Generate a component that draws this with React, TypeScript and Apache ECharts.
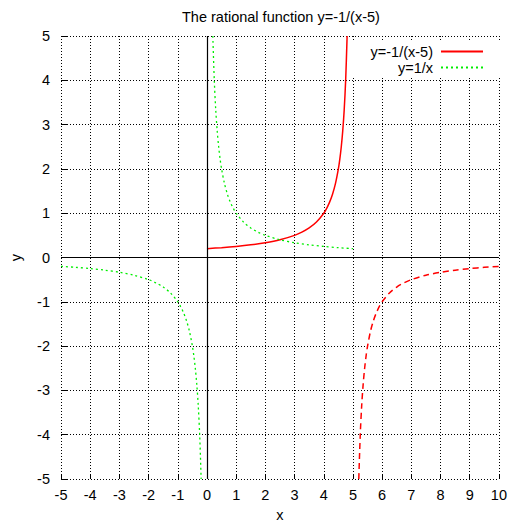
import React, { useEffect, useRef } from "react";
import * as echarts from "echarts";

const titleText = "The rational function y=-1/(x-5)";
const redName = "y=-1/(x-5)";
const greenName = "y=1/x";

// y=-1/(x-5), branch left of the asymptote (solid)
const redUpperX = [0, 0.5, 1, 1.5, 2, 2.5, 3, 3.25, 3.5, 3.75, 4, 4.1, 4.2, 4.3, 4.4, 4.5, 4.55, 4.6, 4.65, 4.7, 4.75, 4.8];
const redUpperY = [0.2, 0.2222, 0.25, 0.2857, 0.3333, 0.4, 0.5, 0.5714, 0.6667, 0.8, 1, 1.1111, 1.25, 1.4286, 1.6667, 2, 2.2222, 2.5, 2.8571, 3.3333, 4, 5];
// y=-1/(x-5), branch right of the asymptote (dashed)
const redLowerX = [5.2, 5.25, 5.3, 5.35, 5.4, 5.45, 5.5, 5.6, 5.7, 5.8, 5.9, 6, 6.25, 6.5, 6.75, 7, 7.5, 8, 8.5, 9, 9.5, 10];
const redLowerY = [-5, -4, -3.3333, -2.8571, -2.5, -2.2222, -2, -1.6667, -1.4286, -1.25, -1.1111, -1, -0.8, -0.6667, -0.5714, -0.5, -0.4, -0.3333, -0.2857, -0.25, -0.2222, -0.2];
// y=1/x, positive branch
const greenUpperX = [0.2, 0.25, 0.3, 0.35, 0.4, 0.45, 0.5, 0.6, 0.7, 0.8, 0.9, 1, 1.25, 1.5, 1.75, 2, 2.5, 3, 3.5, 4, 4.5, 5];
const greenUpperY = [5, 4, 3.3333, 2.8571, 2.5, 2.2222, 2, 1.6667, 1.4286, 1.25, 1.1111, 1, 0.8, 0.6667, 0.5714, 0.5, 0.4, 0.3333, 0.2857, 0.25, 0.2222, 0.2];
// y=1/x, negative branch
const greenLowerX = [-5, -4.5, -4, -3.5, -3, -2.5, -2, -1.75, -1.5, -1.25, -1, -0.9, -0.8, -0.7, -0.6, -0.5, -0.45, -0.4, -0.35, -0.3, -0.25, -0.2];
const greenLowerY = [-0.2, -0.2222, -0.25, -0.2857, -0.3333, -0.4, -0.5, -0.5714, -0.6667, -0.8, -1, -1.1111, -1.25, -1.4286, -1.6667, -2, -2.2222, -2.5, -2.8571, -3.3333, -4, -5];

const xMin = -5, xMax = 10, yMin = -5, yMax = 5;

const zip = (xs: number[], ys: number[]) => xs.map((x, i) => [x, ys[i]]);

const FONT = "Liberation Sans, Arial, Helvetica, sans-serif";
const FS = 14.5;

export default function App() {
  const ref = useRef<HTMLDivElement>(null);
  useEffect(() => {
    if (!ref.current) return;
    const chart = echarts.init(ref.current, undefined, { renderer: "svg" });
    const red = "#ff0000";
    const green = "#00ee00";
    chart.setOption({
      animation: false,
      backgroundColor: "#ffffff",
      textStyle: { fontFamily: FONT },
      title: {
        text: titleText,
        left: 177,
        top: 4,
        textStyle: { fontFamily: FONT, fontSize: FS, fontWeight: "normal", color: "#000" },
      },
      legend: {
        data: [redName, greenName],
        orient: "vertical",
        right: 5,
        top: 42,
        align: "right",
        itemWidth: 42,
        itemHeight: 10,
        itemGap: 1,
        padding: [2, 21, 2, 30],
        backgroundColor: "#ffffff",
        z: 1,
        itemStyle: { color: "rgba(0,0,0,0)", borderWidth: 0, opacity: 0 },
        textStyle: { fontFamily: FONT, fontSize: FS, color: "#000", padding: [0, 3, 0, 0] },
      },
      grid: { left: 59, right: 7, top: 36, bottom: 46, containLabel: false },
      xAxis: {
        type: "value",
        min: xMin,
        max: xMax,
        interval: 1,
        name: "x",
        nameLocation: "middle",
        nameGap: 28,
        nameTextStyle: { fontFamily: FONT, fontSize: FS, color: "#000" },
        axisLine: { show: false, onZero: false },
        axisTick: { show: true, inside: true, length: 5, lineStyle: { color: "#000" } },
        axisLabel: { fontFamily: FONT, fontSize: FS, color: "#000", margin: 8 },
        splitLine: { show: true, lineStyle: { color: "#000", type: [1, 2], width: 1 } },
      },
      yAxis: {
        type: "value",
        min: yMin,
        max: yMax,
        interval: 1,
        name: "y",
        nameLocation: "middle",
        nameGap: 38,
        nameTextStyle: { fontFamily: FONT, fontSize: FS, color: "#000" },
        axisLine: { show: false, onZero: false },
        axisTick: { show: true, inside: true, length: 6, lineStyle: { color: "#000" } },
        axisLabel: { fontFamily: FONT, fontSize: FS, color: "#000", margin: 11 },
        splitLine: { show: true, lineStyle: { color: "#000", type: [1, 2], width: 1 } },
      },
      series: [
        {
          name: redName,
          type: "line",
          data: zip(redUpperX, redUpperY),
          showSymbol: false,
          symbol: "none",
          smooth: 0.3,
          lineStyle: { color: red, width: 1.5, type: "solid" },
          itemStyle: { color: red },
          z: 3,
          markLine: {
            silent: true,
            symbol: "none",
            label: { show: false },
            lineStyle: { color: "#000", width: 1.2, type: "solid" },
            data: [{ xAxis: 0 }, { yAxis: 0 }],
          },
        },
        {
          name: redName,
          type: "line",
          data: zip(redLowerX, redLowerY),
          showSymbol: false,
          symbol: "none",
          smooth: 0.3,
          lineStyle: { color: red, width: 1.5, type: [6, 4] },
          itemStyle: { color: red },
          z: 3,
        },
        {
          name: greenName,
          type: "line",
          data: zip(greenUpperX, greenUpperY),
          showSymbol: false,
          symbol: "none",
          smooth: 0.3,
          lineStyle: { color: green, width: 1.3, type: [2, 3] },
          itemStyle: { color: green },
          z: 3,
        },
        {
          name: greenName,
          type: "line",
          data: zip(greenLowerX, greenLowerY),
          showSymbol: false,
          symbol: "none",
          smooth: 0.3,
          lineStyle: { color: green, width: 1.3, type: [2, 3] },
          itemStyle: { color: green },
          z: 3,
        },
      ],
    });
    return () => chart.dispose();
  }, []);
  return (
    <div
      ref={ref}
      style={{ position: "fixed", left: 0, top: 0, width: 510, height: 527, background: "#fff" }}
    />
  );
}
